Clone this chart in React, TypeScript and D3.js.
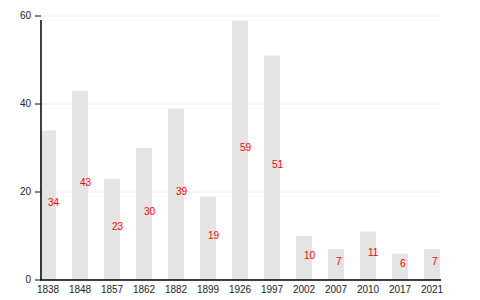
import React from "react";
import * as d3 from "d3";

const categories = ["1838", "1848", "1857", "1862", "1882", "1899", "1926", "1997", "2002", "2007", "2010", "2017", "2021"];
const values = [34, 43, 23, 30, 39, 19, 59, 51, 10, 7, 11, 6, 7];
const yTicks = [0, 20, 40, 60];

export default function App() {
  const W = 480, H = 300;
  const x = d3.scaleBand<string>().domain(categories).range([40, 440]).paddingInner(0.5).paddingOuter(0).align(0);
  const y = d3.scaleLinear().domain([0, 60]).range([280, 16]);
  const font = "'Liberation Sans', Arial, Helvetica, sans-serif";
  return (
    <svg width={W} height={H} style={{ position: "absolute", left: 0, top: 0, background: "#fff" }} fontFamily={font}>
      <defs>
        <filter id="soft" x="-20%" y="-5%" width="140%" height="110%">
          <feGaussianBlur stdDeviation="0.7" />
        </filter>
      </defs>
      {yTicks.filter((t) => t > 0).map((t) => (
        <line key={"g" + t} x1={41} x2={440} y1={y(t)} y2={y(t)} stroke="#eeeeee" strokeWidth={1} />
      ))}
      <g filter="url(#soft)">
        {categories.map((c, i) => (
          <rect key={c} x={x(c)!} y={y(values[i])} width={x.bandwidth()} height={y(0) - y(values[i])} fill="#e4e4e4" />
        ))}
      </g>
      {categories.map((c, i) => (
        <text key={"l" + c} x={x(c)! + x.bandwidth() / 2} y={y(values[i] / 2)} dy="0.05em" fill="#ff0000" fontSize={10}>
          {values[i]}
        </text>
      ))}
      <line x1={41} x2={41} y1={20} y2={280} stroke="#000" strokeWidth={1.5} />
      <line x1={40} x2={441} y1={280} y2={280} stroke="#000" strokeWidth={1.5} />
      {yTicks.map((t) => (
        <g key={"t" + t}>
          <line x1={35} x2={41} y1={y(t)} y2={y(t)} stroke="#000" strokeWidth={1} />
          <text x={31} y={y(t)} dy="0.32em" textAnchor="end" fontSize={10} fill="#222">
            {t}
          </text>
        </g>
      ))}
      {categories.map((c) => (
        <text key={"x" + c} x={x(c)! + x.bandwidth() / 2} y={290} dy="0.32em" textAnchor="middle" fontSize={10} fill="#222">
          {c}
        </text>
      ))}
    </svg>
  );
}
